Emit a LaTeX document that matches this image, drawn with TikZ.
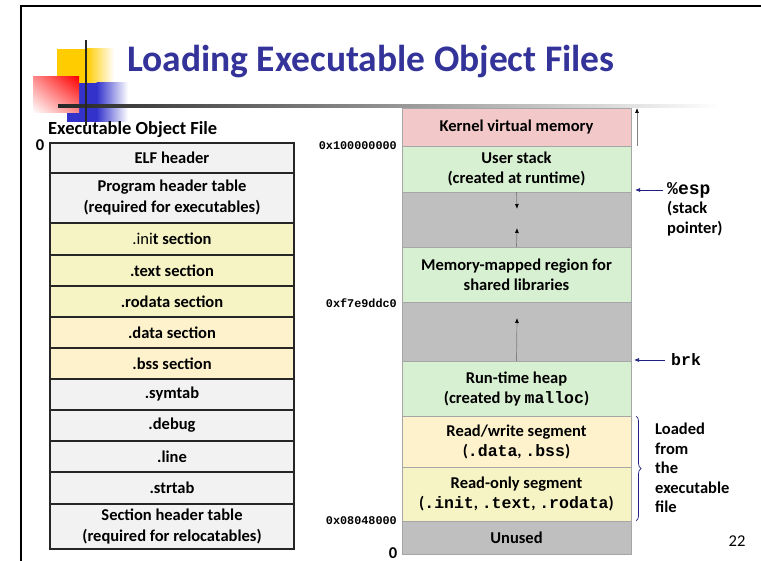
\documentclass[tikz,border=0pt]{standalone}
\usepackage{fontspec}
\setmainfont{Carlito}
\newfontfamily\cmono{Liberation Mono}
\usetikzlibrary{arrows.meta,decorations.pathreplacing,shadings}

\definecolor{titleblue}{RGB}{51,51,153}
\definecolor{hdrgray}{RGB}{242,242,242}
\definecolor{txtyellow}{RGB}{246,243,196}
\definecolor{datyellow}{RGB}{253,242,204}
\definecolor{kernpink}{RGB}{242,200,200}
\definecolor{memgreen}{RGB}{216,240,210}
\definecolor{gapgray}{RGB}{191,191,191}
\definecolor{ptrnavy}{RGB}{32,32,128}
\definecolor{logoyellow}{RGB}{255,204,0}
\definecolor{logoblue}{RGB}{51,51,204}
\newcommand\code[1]{{\cmono #1}}

\begin{document}
\begin{tikzpicture}[x=1pt,y=-1pt,
  lbox/.style={draw=black!85, line width=1.4pt, minimum width=244pt, inner sep=0pt, outer sep=0pt,
    anchor=north west, align=center, font=\fontsize{16.5}{21}\selectfont\bfseries},
  rbox/.style={draw=black!35, line width=0.8pt, minimum width=229pt, inner sep=0pt, outer sep=0pt,
    anchor=north west, align=center, font=\fontsize{16.5}{20}\selectfont\bfseries},
  addr/.style={anchor=east, inner sep=0pt, font=\fontsize{11.8}{13}\selectfont\cmono\bfseries},
  zero/.style={inner sep=0pt, font=\fontsize{16.5}{18}\selectfont\bfseries},
  growarrow/.style={draw=black!50, line width=0.7pt, -{Latex[length=5pt,width=4pt,color=black]}},
  ptrarrow/.style={draw=ptrnavy, line width=0.7pt, -{Latex[length=5pt,width=4pt]}},
  note/.style={anchor=west, align=left, inner sep=0pt, font=\fontsize{16.5}{19.5}\selectfont\bfseries},
]
\useasboundingbox (0,0) rectangle (761,561);
\fill[white] (0,0) rectangle (761,561);

% slide frame
\draw[line width=2pt] (21,561) -- (21,6) -- (761,6);

% logo
\fill[logoyellow] (57,49) rectangle (87,84);
\shade[left color=logoyellow, right color=white] (86.5,49) rectangle (114,84);
\fill[logoblue] (67,83) rectangle (97,122);
\shade[left color=logoblue, right color=white] (96.5,83) rectangle (128,122);
\shade[upper right=red, upper left=red!45!white, lower right=red!45!white, lower left=white] (33,77) rectangle (79,113);
\shade[left color=black!85, right color=white] (58,104.5) rectangle (720,107.5);
\draw[line width=2.5pt, black!85] (86,40) -- (86,126);

% title
\node[anchor=base west, inner sep=0pt, text=titleblue, font=\fontsize{37.5}{44}\selectfont\bfseries] (title) at (127,72) {Loading Executable Object Files};

% left column
\node[anchor=west, inner sep=0pt, font=\fontsize{18.5}{20}\selectfont\bfseries] (eoflabel) at (48,130) {Executable Object File};
\node[zero] (zl) at (40,145) {0};
\node[lbox, fill=hdrgray, minimum height=30pt] (elf) at (50,143) {ELF header};
\node[lbox, fill=hdrgray, minimum height=50pt] (pht) at (50,173) {Program header table\\(required for executables)};
\node[lbox, fill=txtyellow, minimum height=32pt] (init) at (50,223) {{\mdseries .ini}t section};
\node[lbox, fill=txtyellow, minimum height=31pt] (text) at (50,255) {.text section};
\node[lbox, fill=txtyellow, minimum height=31pt] (rodata) at (50,286) {.rodata section};
\node[lbox, fill=datyellow, minimum height=31pt] (data) at (50,317) {.data section};
\node[lbox, fill=datyellow, minimum height=31pt] (bss) at (50,348) {.bss section};
\node[lbox, fill=hdrgray, minimum height=31pt] (symtab) at (50,379) {.symtab};
\node[lbox, fill=hdrgray, minimum height=31pt] (debug) at (50,410) {.debug};
\node[lbox, fill=hdrgray, minimum height=31pt] (line) at (50,441) {.line};
\node[lbox, fill=hdrgray, minimum height=32pt] (strtab) at (50,472) {.strtab};
\node[lbox, fill=hdrgray, minimum height=45pt] (sht) at (50,504) {Section header table\\(required for relocatables)};

% right column
\node[rbox, fill=kernpink, minimum height=38pt] (kernel) at (402,108) {Kernel virtual memory};
\node[rbox, fill=memgreen, minimum height=46pt] (ustack) at (402,146) {User stack\\(created at runtime)};
\node[rbox, fill=gapgray, minimum height=55pt] (gap1) at (402,192) {};
\node[rbox, fill=memgreen, minimum height=55pt] (mmap) at (402,247) {Memory-mapped region for\\shared libraries};
\node[rbox, fill=gapgray, minimum height=59pt] (gap2) at (402,302) {};
\node[rbox, fill=memgreen, minimum height=55pt] (heap) at (402,361) {Run-time heap\\(created by \code{malloc})};
\node[rbox, fill=datyellow, minimum height=51pt] (rw) at (402,416) {Read/write segment\\(\code{.data}, \code{.bss})};
\node[rbox, fill=txtyellow, minimum height=54pt] (ro) at (402,467) {Read-only segment\\(\code{.init}, \code{.text}, \code{.rodata})};
\node[rbox, fill=gapgray, minimum height=33pt] (unused) at (402,521) {Unused};

% addresses
\node[addr] (a1) at (397,146) {0x100000000};
\node[addr] (a2) at (397,303) {0xf7e9ddc0};
\node[addr] (a3) at (397,521) {0x08048000};
\node[zero] (zr) at (393,553) {0};

% growth arrows
\coordinate (sdown) at (517,209);
\coordinate (mup) at (517,228);
\coordinate (hup) at (517,318);
\draw[growarrow] (gap1.north) -- (sdown);
\draw[growarrow] (gap1.south) -- (mup);
\draw[growarrow] (gap2.south) -- (hup);
\coordinate (kbot) at (637,146);
\coordinate (ktop) at (637,108);
\draw[growarrow] (kbot) -- (ktop);

% pointers
\node[note] (esp) at (667,209) {{\fontsize{18}{19.5}\selectfont\code{\%esp}}\\(stack\\pointer)};
\coordinate (espfrom) at (663,190);
\coordinate (espto) at (635,190);
\draw[ptrarrow] (espfrom) -- (espto);
\node[anchor=west, inner sep=0pt, font=\fontsize{16.5}{18}\selectfont\bfseries] (brk) at (671,360) {\code{brk}};
\coordinate (brkfrom) at (665,360);
\coordinate (brkto) at (634,360);
\draw[ptrarrow] (brkfrom) -- (brkto);

% brace
\coordinate (bt) at (636,416);
\coordinate (bb) at (636,521);
\draw[ptrnavy, line width=0.7pt, decorate, decoration={brace, amplitude=5pt}] (bt) -- (bb);
\node[note] (loaded) at (655,468) {Loaded\\from\\the\\executable\\file};

% page number
\node[inner sep=0pt, font=\fontsize{16.5}{18}\selectfont] (pg) at (737,541) {22};
\end{tikzpicture}
\end{document}
